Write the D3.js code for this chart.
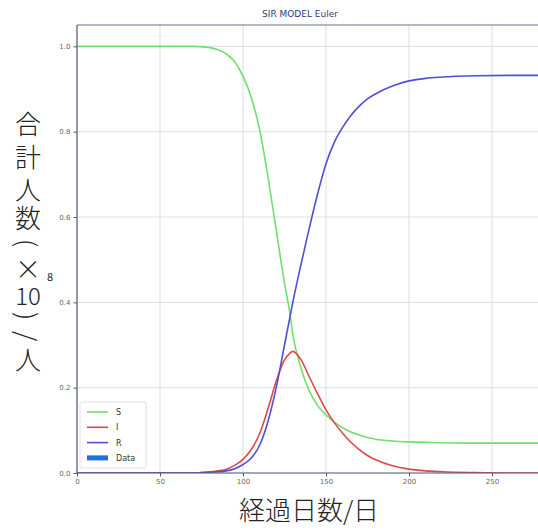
<!DOCTYPE html>
<html><head><meta charset="utf-8">
<script src="https://cdn.jsdelivr.net/npm/d3@7"></script>
<style>body{margin:0;background:#fff}svg{display:block}</style>
</head><body><svg id="c" width="538" height="530"></svg>
<script>
const days = [0,10,20,30,40,50,60,70,75,80,85,90,95,100,105,110,115,120,125,128,130,135,140,145,150,155,160,165,170,175,180,190,200,210,220,240,260,280];
const S = [1,1,1,1,1,1,1,1,0.999,0.997,0.992,0.982,0.964,0.93,0.88,0.805,0.695,0.57,0.445,0.38,0.325,0.245,0.192,0.158,0.136,0.119,0.106,0.096,0.089,0.083,0.079,0.075,0.073,0.072,0.071,0.07,0.07,0.07];
const I = [0,0,0,0,0,0,0,0,0.001,0.002,0.005,0.009,0.018,0.032,0.055,0.092,0.15,0.215,0.265,0.28,0.285,0.265,0.225,0.185,0.148,0.118,0.093,0.072,0.055,0.041,0.031,0.017,0.009,0.005,0.003,0.001,0,0];
const R = [0,0,0,0,0,0,0,0,0.001,0.002,0.003,0.005,0.01,0.02,0.035,0.065,0.12,0.2,0.3,0.36,0.4,0.49,0.575,0.655,0.725,0.775,0.81,0.838,0.86,0.877,0.889,0.907,0.919,0.925,0.928,0.931,0.932,0.932];
const seriesNames = ["S","I","R"];
const legendNames = ["S","I","R","Data"];
const xTicks = [0,50,100,150,200,250];
const yTicks = [0,0.2,0.4,0.6,0.8,1.0];
const title = "SIR MODEL Euler";
const xLabel = "経過日数/日";
const yLabelChars = ["合","計","人","数","(","×","10",")","/","人"];

const colors = {S:"#6ee06e", I:"#e04848", R:"#4f4fd6", Data:"#1f6fe0"};
const svg = d3.select("#c");
const L=77, T=25, B=473;
const x = d3.scaleLinear().domain([0,280]).range([L, L+1.66*280]);
const y = d3.scaleLinear().domain([0,1.05]).range([B, T]);
const W = 538;

svg.append("defs").append("clipPath").attr("id","clip")
  .append("rect").attr("x",L).attr("y",T).attr("width",W-L).attr("height",B-T);

// grid
const g = svg.append("g");
g.selectAll(".gx").data(xTicks).join("line")
  .attr("x1",d=>x(d)).attr("x2",d=>x(d)).attr("y1",T).attr("y2",B)
  .attr("stroke","#d9dde8").attr("stroke-width",1);
g.selectAll(".gy").data(yTicks).join("line")
  .attr("x1",L).attr("x2",W).attr("y1",d=>y(d)).attr("y2",d=>y(d))
  .attr("stroke","#d9dde8").attr("stroke-width",1);

// lines
const data = {S, I, R};
const line = d3.line().x((d,i)=>x(days[i])).y(d=>y(d)).curve(d3.curveMonotoneX);
const pg = svg.append("g").attr("clip-path","url(#clip)");
seriesNames.forEach(n=>{
  pg.append("path").attr("d", line(data[n])).attr("fill","none")
    .attr("stroke", colors[n]).attr("stroke-width",1.6);
});

// axes
const xa = svg.append("g").attr("transform",`translate(0,${B})`)
  .call(d3.axisBottom(x).tickValues(xTicks).tickSize(3.5).tickFormat(d3.format("d")));
const ya = svg.append("g").attr("transform",`translate(${L},0)`)
  .call(d3.axisLeft(y).tickValues(yTicks).tickSize(3.5).tickFormat(d3.format(".1f")));
[xa,ya].forEach(a=>{
  a.select(".domain").remove();
  a.selectAll("line").attr("stroke","#556");
  a.selectAll("text").attr("fill","#666").style("font-family","DejaVu Sans").style("font-size","7px");
});
// spines
svg.append("line").attr("x1",L).attr("x2",L).attr("y1",T).attr("y2",B).attr("stroke","#5a5f78").attr("stroke-width",1.2);
svg.append("line").attr("x1",L).attr("x2",W).attr("y1",B).attr("y2",B).attr("stroke","#5a5f78").attr("stroke-width",1.2);
svg.append("line").attr("x1",L).attr("x2",W).attr("y1",T).attr("y2",T).attr("stroke","#6a6f88").attr("stroke-width",1);

// title
svg.append("text").attr("x",300).attr("y",17).attr("text-anchor","middle")
  .style("font-family","DejaVu Sans").style("font-size","9px").attr("fill","#2b3a78").text(title);

// legend
const lg = svg.append("g").attr("transform","translate(80,402)");
lg.append("rect").attr("width",66).attr("height",66).attr("rx",2)
  .attr("fill","#fff").attr("fill-opacity",0.85).attr("stroke","#e2e2e2");
legendNames.forEach((n,i)=>{
  const yy = 10 + i*15.3;
  lg.append("line").attr("x1",7).attr("x2",28).attr("y1",yy).attr("y2",yy)
    .attr("stroke",colors[n]).attr("stroke-width", n==="Data"?5:1.6);
  lg.append("text").attr("x",36).attr("y",yy+3).text(n)
    .style("font-family","DejaVu Sans").style("font-size","8px").attr("fill","#333");
});

// x label
svg.append("text").attr("x",309).attr("y",520).attr("text-anchor","middle")
  .style("font-family","'Noto Sans CJK JP'").style("font-size","26px").style("font-weight","300")
  .attr("fill","#222").text(xLabel);

// y label (stacked vertical)
const yPos = [122,155,188,216,243,267,294,316,336,358];
const rot = {"(":90,")":90,"/":90};
yLabelChars.forEach((ch,i)=>{
  const t = svg.append("text").attr("text-anchor","middle").attr("dominant-baseline","central")
    .style("font-family","'Noto Sans CJK JP'").style("font-weight","300")
    .style("font-size", ch==="10"?"24px":"26px").attr("fill","#222").text(ch);
  if (rot[ch]) t.attr("transform",`translate(28,${yPos[i]}) rotate(${rot[ch]})`).attr("x",0).attr("y",0);
  else t.attr("x",28).attr("y",yPos[i]);
});
svg.append("text").attr("x",50).attr("y",276).attr("text-anchor","middle").attr("dominant-baseline","central")
  .style("font-family","'Noto Sans CJK JP'").style("font-size","11px").attr("fill","#222").text("8");
</script></body></html>
